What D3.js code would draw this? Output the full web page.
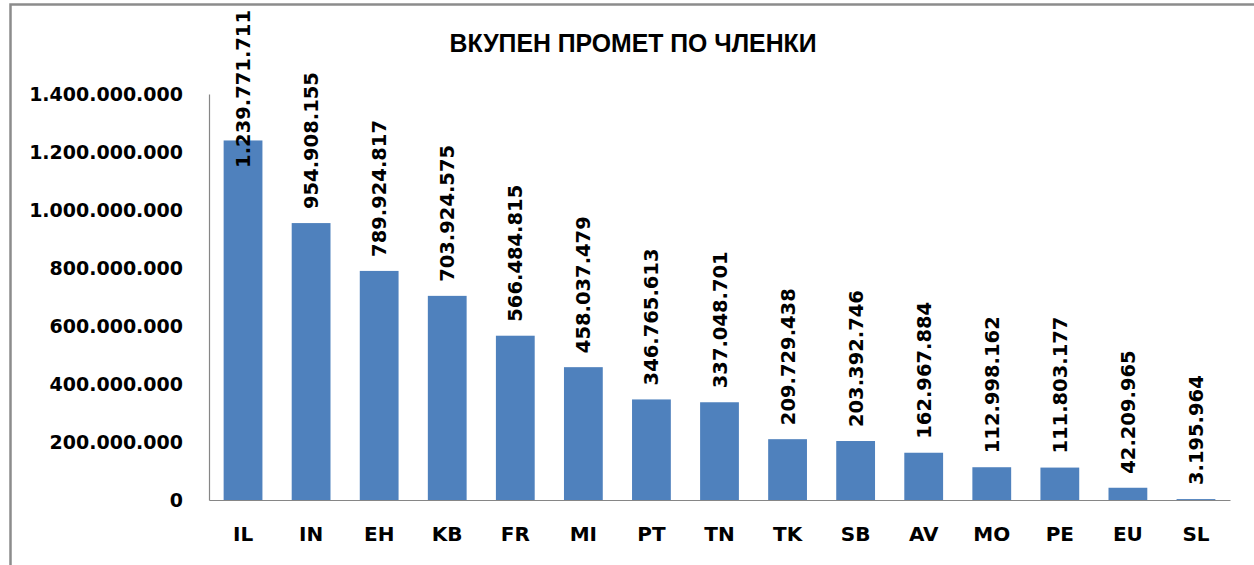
<!DOCTYPE html>
<html>
<head>
<meta charset="utf-8">
<script src="https://cdn.jsdelivr.net/npm/d3@7"></script>
<style>
  html, body { margin: 0; padding: 0; background: #fff; }
  svg { display: block; }
</style>
</head>
<body>
<svg id="chart" width="1254" height="565"></svg>
<script>
const categories = ["IL","IN","EH","KB","FR","MI","PT","TN","TK","SB","AV","MO","PE","EU","SL"];
const values = [1239771711, 954908155, 789924817, 703924575, 566484815, 458037479, 346765613, 337048701, 209729438, 203392746, 162967884, 112998162, 111803177, 42209965, 3195964];
const yTicks = [0, 200000000, 400000000, 600000000, 800000000, 1000000000, 1200000000, 1400000000];
const title = "ВКУПЕН ПРОМЕТ ПО ЧЛЕНКИ";

const W = 1254, H = 565;
const svg = d3.select("#chart");
const locale = d3.formatLocale({decimal: ",", thousands: ".", grouping: [3], currency: ["", ""]});
const fmt = locale.format(",d");
const FONT = "'DejaVu Sans', sans-serif";

// outer frame
svg.append("rect").attr("x", 10.5).attr("y", 4.5).attr("width", 1400).attr("height", 700)
  .attr("fill", "none").attr("stroke", "#8c8c8c").attr("stroke-width", 2.5);

const x = d3.scaleBand().domain(categories).range([209, 1230]).paddingInner(0.43).paddingOuter(0.215);
const y = d3.scaleLinear().domain([0, 1400000000]).range([500, 94]);

// title
svg.append("text").attr("x", 633).attr("y", 52).attr("text-anchor", "middle")
  .attr("font-family", "'Liberation Sans', Arial, sans-serif").attr("font-weight", "bold")
  .attr("font-size", 25).attr("textLength", 367).attr("lengthAdjust", "spacingAndGlyphs")
  .attr("fill", "#000").text(title);

// bars
svg.append("g").selectAll("rect").data(values).join("rect")
  .attr("x", (d, i) => x(categories[i]))
  .attr("y", d => y(d))
  .attr("width", x.bandwidth())
  .attr("height", d => y(0) - y(d))
  .attr("fill", "#4F81BD");

// y axis
const yAxis = svg.append("g").attr("transform", "translate(209,0)")
  .call(d3.axisLeft(y).tickValues(yTicks).tickFormat(fmt).tickSize(0).tickPadding(26));
yAxis.select(".domain").attr("stroke", "#868686").attr("stroke-width", 1.2);
yAxis.selectAll("text").attr("font-family", FONT).attr("font-weight", "bold")
  .attr("font-size", 19).attr("fill", "#000");

// x axis
const xAxis = svg.append("g").attr("transform", "translate(0,500)")
  .call(d3.axisBottom(x).tickSize(0).tickPadding(27));
xAxis.select(".domain").attr("stroke", "#868686").attr("stroke-width", 1.2);
xAxis.selectAll("text").attr("font-family", FONT).attr("font-weight", "bold")
  .attr("font-size", 20).attr("fill", "#000");

// value labels (rotated)
const lbl = svg.append("g").selectAll("text").data(values).join("text")
  .attr("font-family", FONT).attr("font-weight", "bold").attr("font-size", 19.5)
  .attr("fill", "#000").attr("text-anchor", "start").attr("dy", "0.36em")
  .text(d => fmt(d));
lbl.each(function(d, i) {
  const L = this.getComputedTextLength();
  let start = y(d) - 14;
  if (start - L < 10) start = 10 + L;
  const cx = x(categories[i]) + x.bandwidth() / 2;
  d3.select(this).attr("transform", `translate(${cx},${start}) rotate(-90)`);
});
</script>
</body>
</html>
